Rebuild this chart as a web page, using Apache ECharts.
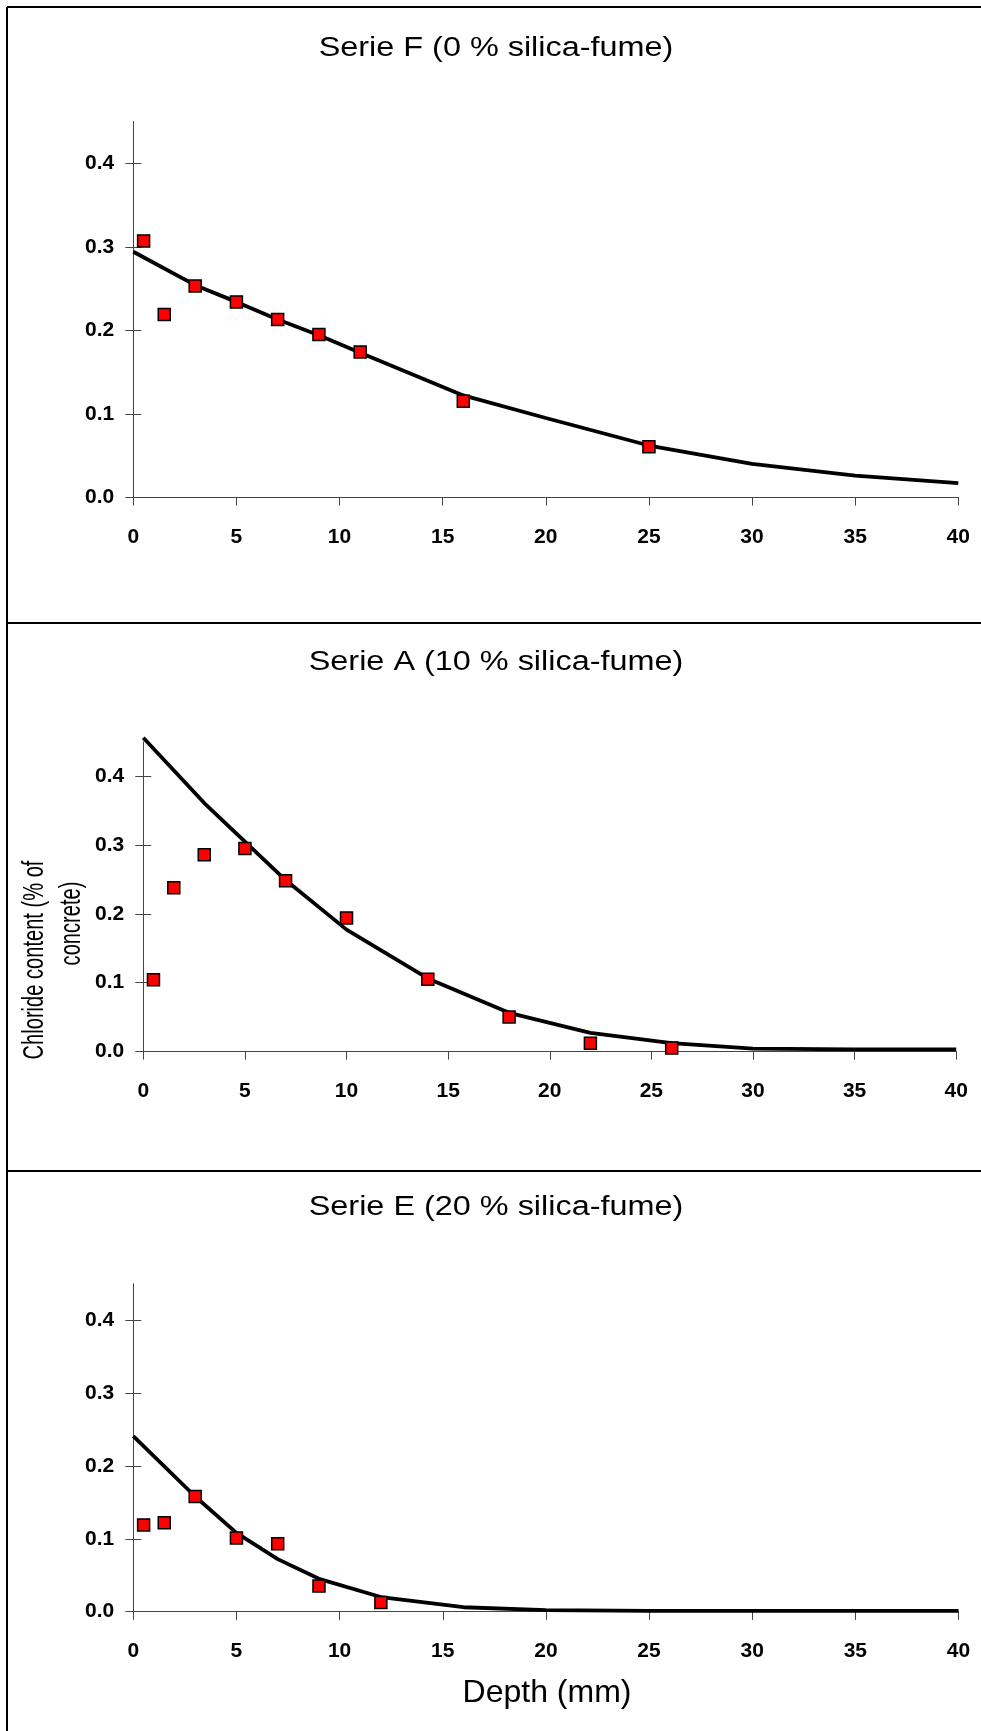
<!DOCTYPE html>
<html>
<head>
<meta charset="utf-8">
<script src="https://cdn.jsdelivr.net/npm/echarts@6/dist/echarts.min.js"></script>
<style>html,body{margin:0;padding:0;background:#fff;}#c{width:981px;height:1731px;}</style>
</head>
<body>
<div id="c"></div>
<script>
// ---- data ----
const panelTitles = ['Serie F (0 % silica-fume)', 'Serie A (10 % silica-fume)', 'Serie E (20 % silica-fume)'];
const xTickValues = [0, 5, 10, 15, 20, 25, 30, 35, 40];
const yTickValues = [0, 0.1, 0.2, 0.3, 0.4];

const fDepth = [0.5, 1.5, 3, 5, 7, 9, 11, 16, 25];
const fChloride = [0.307, 0.219, 0.253, 0.234, 0.213, 0.195, 0.174, 0.115, 0.0605];
const fFitDepth = [0, 3, 5, 7, 9, 11, 16, 20, 25, 30, 35, 40];
const fFit = [0.294, 0.254, 0.234, 0.213, 0.194, 0.173, 0.122, 0.095, 0.062, 0.040, 0.026, 0.017];

const aDepth = [0.5, 1.5, 3, 5, 7, 10, 14, 18, 22, 26];
const aChloride = [0.104, 0.238, 0.286, 0.295, 0.248, 0.194, 0.105, 0.050, 0.012, 0.005];
const aFitDepth = [0, 3, 5, 7, 10, 14, 18, 22, 26, 30, 35, 40];
const aFit = [0.456, 0.361, 0.305, 0.249, 0.177, 0.106, 0.056, 0.027, 0.012, 0.004, 0.003, 0.003];

const eDepth = [0.5, 1.5, 3, 5, 7, 9, 12];
const eChloride = [0.119, 0.122, 0.158, 0.101, 0.093, 0.035, 0.0125];
const eFitDepth = [0, 3, 5, 7, 9, 12, 16, 20, 25, 30, 35, 40];
const eFit = [0.241, 0.158, 0.108, 0.072, 0.045, 0.020, 0.006, 0.002, 0.001, 0.001, 0.001, 0.001];

const yAxisName = ['Chloride content (% of', 'concrete)'];
const xAxisName = 'Depth (mm)';

// ---- layout ----
const grids = [
  {left: 133.3, top: 121.5, width: 825, height: 375.8},
  {left: 143.3, top: 741.8, width: 812.9, height: 309.6},
  {left: 133.3, top: 1283.8, width: 825.2, height: 327.8}
];
const titleY = [49, 663, 1208];

const FONT = 'Liberation Sans, Arial, sans-serif';
const pair = (xs, ys) => xs.map((x, i) => [x, ys[i]]);
const scatterSets = [pair(fDepth, fChloride), pair(aDepth, aChloride), pair(eDepth, eChloride)];
const fitSets = [pair(fFitDepth, fFit), pair(aFitDepth, aFit), pair(eFitDepth, eFit)];

const xAxes = [], yAxes = [], series = [];
grids.forEach((g, i) => {
  const base = {gridIndex: i, type: 'value', min: 0, max: 40, interval: 5, splitLine: {show: false}};
  xAxes.push(Object.assign({}, base, {
    axisLine: {show: true, lineStyle: {color: '#444', width: 1}},
    axisTick: {show: true, inside: false, length: 8, lineStyle: {color: '#444'}, customValues: xTickValues},
    axisLabel: {show: true, margin: 29, color: '#000', fontFamily: FONT, fontWeight: 'bold', fontSize: 21,
      customValues: xTickValues, formatter: v => String(v)}
  }));
  xAxes.push(Object.assign({}, base, {
    axisLine: {show: false},
    axisTick: {show: true, inside: true, length: 8, lineStyle: {color: '#444'}, customValues: xTickValues},
    axisLabel: {show: false}
  }));
  const ybase = {gridIndex: i, type: 'value', min: 0, max: 0.45, interval: 0.1, splitLine: {show: false}};
  yAxes.push(Object.assign({}, ybase, {
    axisLine: {show: true, lineStyle: {color: '#444', width: 1}},
    axisTick: {show: true, inside: false, length: 8, lineStyle: {color: '#444'}, customValues: yTickValues},
    axisLabel: {show: true, margin: 19, color: '#000', fontFamily: FONT, fontWeight: 'bold', fontSize: 21,
      customValues: yTickValues, formatter: v => v.toFixed(1)}
  }));
  yAxes.push(Object.assign({}, ybase, {
    position: 'left',
    axisLine: {show: false},
    axisTick: {show: true, inside: true, length: 8, lineStyle: {color: '#444'}, customValues: yTickValues},
    axisLabel: {show: false}
  }));
  series.push({
    type: 'line', xAxisIndex: 2 * i, yAxisIndex: 2 * i, data: fitSets[i],
    showSymbol: false, symbol: 'none', clip: false, z: 2,
    lineStyle: {color: '#000', width: 3.8}, silent: true
  });
  series.push({
    type: 'scatter', xAxisIndex: 2 * i, yAxisIndex: 2 * i, data: scatterSets[i],
    symbol: 'rect', symbolSize: 12, z: 3,
    itemStyle: {color: '#ff0000', borderColor: '#000', borderWidth: 1.5, opacity: 1}
  });
});

const graphics = [];
// panel frames
const lineStyle = {stroke: '#000', lineWidth: 2};
[[7, 7, 985, 7], [7, 623, 985, 623], [7, 1171, 985, 1171], [7, 7, 7, 1740]].forEach(s => {
  graphics.push({type: 'line', shape: {x1: s[0], y1: s[1], x2: s[2], y2: s[3]}, style: lineStyle, silent: true});
});
panelTitles.forEach((t, i) => {
  graphics.push({type: 'text', x: 496, y: titleY[i], scaleX: 1.2, scaleY: 1,
    style: {text: t, fontFamily: FONT, fontSize: 27, fill: '#000', align: 'center', verticalAlign: 'middle'}});
});
graphics.push({type: 'text', x: 35, y: 960, rotation: Math.PI / 2, scaleX: 0.67,
  style: {text: yAxisName[0], fontFamily: FONT, fontSize: 30, fill: '#000', align: 'center', verticalAlign: 'middle'}});
graphics.push({type: 'text', x: 72, y: 923.5, rotation: Math.PI / 2, scaleX: 0.67,
  style: {text: yAxisName[1], fontFamily: FONT, fontSize: 30, fill: '#000', align: 'center', verticalAlign: 'middle'}});
graphics.push({type: 'text', x: 547, y: 1693,
  style: {text: xAxisName, fontFamily: FONT, fontSize: 32, fill: '#000', align: 'center', verticalAlign: 'middle'}});

const chart = echarts.init(document.getElementById('c'), null, {renderer: 'canvas'});
chart.setOption({
  animation: false,
  backgroundColor: '#fff',
  grid: grids.map(g => Object.assign({containLabel: false}, g)),
  xAxis: xAxes,
  yAxis: yAxes,
  series: series,
  graphic: graphics
});
</script>
</body>
</html>
